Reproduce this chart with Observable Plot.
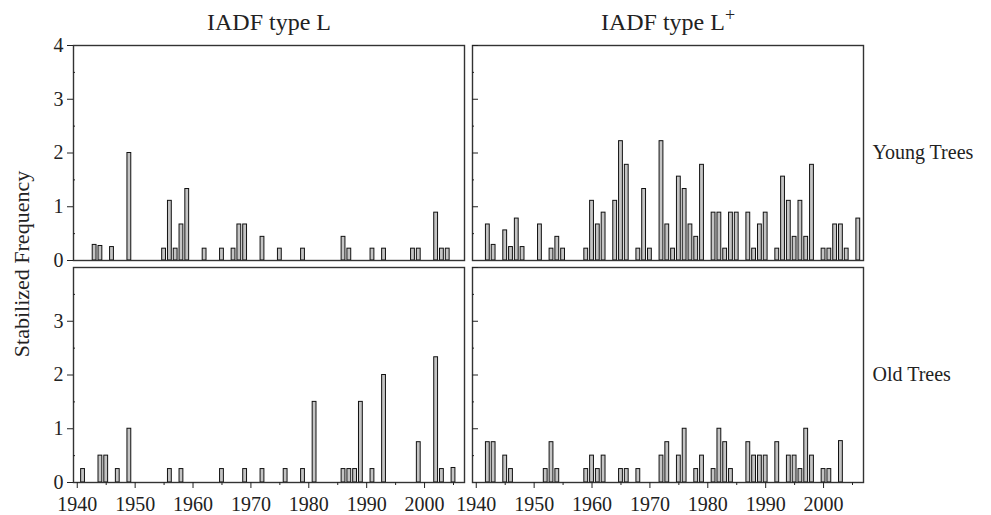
<!DOCTYPE html>
<html>
<head>
<meta charset="utf-8">
<script src="https://cdn.jsdelivr.net/npm/d3@7"></script>
<script src="https://cdn.jsdelivr.net/npm/@observablehq/plot@0.6"></script>
<style>
  html, body { margin: 0; padding: 0; background: #fff; }
  #chart { width: 991px; height: 515px; }
  #chart svg text { font-family: "Liberation Serif", "Times New Roman", Times, serif; }
</style>
</head>
<body>
<div id="chart"></div>
<script>
// Facet categories
const types = ["L", "L+"];
const ages = ["Young", "Old"];
const typeTitles = ["IADF type L", "IADF type L+"];
const ageTitles = ["Young Trees", "Old Trees"];

// Young trees, IADF type L
const youngLYears  = [1943,1944,1946,1949,1955,1956,1957,1958,1959,1962,1965,1967,1968,1969,1972,1975,1979,1986,1987,1991,1993,1998,1999,2002,2003,2004];
const youngLValues = [0.29,0.27,0.25,2.0,0.22,1.11,0.22,0.67,1.33,0.22,0.22,0.22,0.67,0.67,0.44,0.22,0.22,0.44,0.22,0.22,0.22,0.22,0.22,0.89,0.22,0.22];

// Young trees, IADF type L+
const youngLpYears  = [1942,1943,1945,1946,1947,1948,1951,1953,1954,1955,1959,1960,1961,1962,1964,1965,1966,1968,1969,1970,1972,1973,1974,1975,1976,1977,1978,1979,1981,1982,1983,1984,1985,1987,1988,1989,1990,1992,1993,1994,1995,1996,1997,1998,2000,2001,2002,2003,2004,2006];
const youngLpValues = [0.67,0.29,0.56,0.25,0.78,0.25,0.67,0.22,0.44,0.22,0.22,1.11,0.67,0.89,1.11,2.22,1.78,0.22,1.33,0.22,2.22,0.67,0.22,1.56,1.33,0.67,0.44,1.78,0.89,0.89,0.22,0.89,0.89,0.89,0.22,0.67,0.89,0.22,1.56,1.11,0.44,1.11,0.44,1.78,0.22,0.22,0.67,0.67,0.22,0.78];

// Old trees, IADF type L
const oldLYears  = [1941,1944,1945,1947,1949,1956,1958,1965,1969,1972,1976,1979,1981,1986,1987,1988,1989,1991,1993,1999,2002,2003,2005];
const oldLValues = [0.25,0.5,0.5,0.25,1.0,0.25,0.25,0.25,0.25,0.25,0.25,0.25,1.5,0.25,0.25,0.25,1.5,0.25,2.0,0.75,2.33,0.25,0.27];

// Old trees, IADF type L+
const oldLpYears  = [1942,1943,1945,1946,1952,1953,1954,1959,1960,1961,1962,1965,1966,1968,1972,1973,1975,1976,1978,1979,1981,1982,1983,1984,1987,1988,1989,1990,1992,1994,1995,1996,1997,1998,2000,2001,2003];
const oldLpValues = [0.75,0.75,0.5,0.25,0.25,0.75,0.25,0.25,0.5,0.25,0.5,0.25,0.25,0.25,0.5,0.75,0.5,1.0,0.25,0.5,0.25,1.0,0.75,0.25,0.75,0.5,0.5,0.5,0.75,0.5,0.5,0.25,1.0,0.5,0.25,0.25,0.77];

// Tick labels
const xMajorTicks = [1940,1950,1960,1970,1980,1990,2000];
const xMinorTicks = [1945,1955,1965,1975,1985,1995,2005];
const yTicksLower = [0,1,2,3];
const yTickTop = [4];
const yMinorTicks = [0.5,1.5,2.5,3.5];
const yRightTicks = [1,2,3,4];

function build(type, age, years, values) {
  return years.map((year, i) => ({type, age, year, value: values[i]}));
}
const rows = [
  ...build("L", "Young", youngLYears, youngLValues),
  ...build("L+", "Young", youngLpYears, youngLpValues),
  ...build("L", "Old", oldLYears, oldLValues),
  ...build("L+", "Old", oldLpYears, oldLpValues)
];

const barHalf = 0.33;

const chart = Plot.plot({
  width: 991,
  height: 515,
  marginLeft: 73,
  marginRight: 127,
  marginTop: 44,
  marginBottom: 33,
  style: {background: "#fff", color: "#222", overflow: "visible"},
  x: {domain: [1939.35, 2006.9]},
  y: {domain: [0, 4]},
  fx: {domain: types, paddingInner: 0.0188, paddingOuter: 0},
  fy: {domain: ages, paddingInner: 0.0337, paddingOuter: 0},
  marks: [
    Plot.rectY(rows, {
      fx: "type", fy: "age",
      x1: d => d.year - barHalf, x2: d => d.year + barHalf,
      y: "value",
      fill: "#c4c4c4", stroke: "#111", strokeWidth: 1
    }),
    Plot.frame({stroke: "#333", strokeWidth: 1.4}),
    Plot.axisFx({anchor: "top", tickSize: 0, tickPadding: 16, fontSize: 24, label: null,
      tickFormat: d => typeTitles[types.indexOf(d)]}),
    Plot.axisFy({anchor: "right", tickSize: 0, tickPadding: 9, fontSize: 20, label: null,
      textAnchor: "start", tickFormat: d => ageTitles[ages.indexOf(d)]}),
    Plot.axisY({anchor: "left", ticks: yTicksLower, facetAnchor: "left", tickSize: 6, tickPadding: 4,
      fontSize: 20, tickFormat: d => String(d), label: "Stabilized Frequency",
      labelAnchor: "center", labelOffset: 60, labelArrow: "none"}),
    Plot.axisY({anchor: "left", ticks: yTickTop, facetAnchor: "top-left", tickSize: 6, tickPadding: 4,
      fontSize: 20, tickFormat: d => String(d), label: null}),
    Plot.axisY({anchor: "left", ticks: yMinorTicks, facetAnchor: "left", tickSize: -2, fill: "none", label: null}),
    Plot.axisY({anchor: "left", ticks: yRightTicks, facetAnchor: "right", tickSize: -6, fill: "none", label: null}),
    Plot.axisY({anchor: "left", ticks: yMinorTicks, facetAnchor: "right", tickSize: -2, fill: "none", label: null}),
    Plot.axisX({anchor: "bottom", ticks: xMajorTicks, facetAnchor: "bottom", tickSize: 6, tickPadding: 8,
      fontSize: 20, tickFormat: d => String(d), label: null}),
    Plot.axisX({anchor: "bottom", ticks: xMinorTicks, facetAnchor: "bottom", tickSize: 3, fill: "none", label: null})
  ]
});

// Superscript plus in the second panel title
chart.querySelectorAll("text").forEach(t => {
  if (t.textContent === "IADF type L+") {
    t.textContent = "IADF type L";
    const ns = "http://www.w3.org/2000/svg";
    const sup = document.createElementNS(ns, "tspan");
    sup.setAttribute("dy", "-9");
    sup.setAttribute("font-size", "18");
    sup.textContent = "+";
    t.appendChild(sup);
  }
});
const labelText = [...chart.querySelectorAll("text")].find(t => t.textContent.includes("Stabilized"));
if (labelText) labelText.setAttribute("font-size", "22");

document.getElementById("chart").appendChild(chart);
</script>
</body>
</html>
